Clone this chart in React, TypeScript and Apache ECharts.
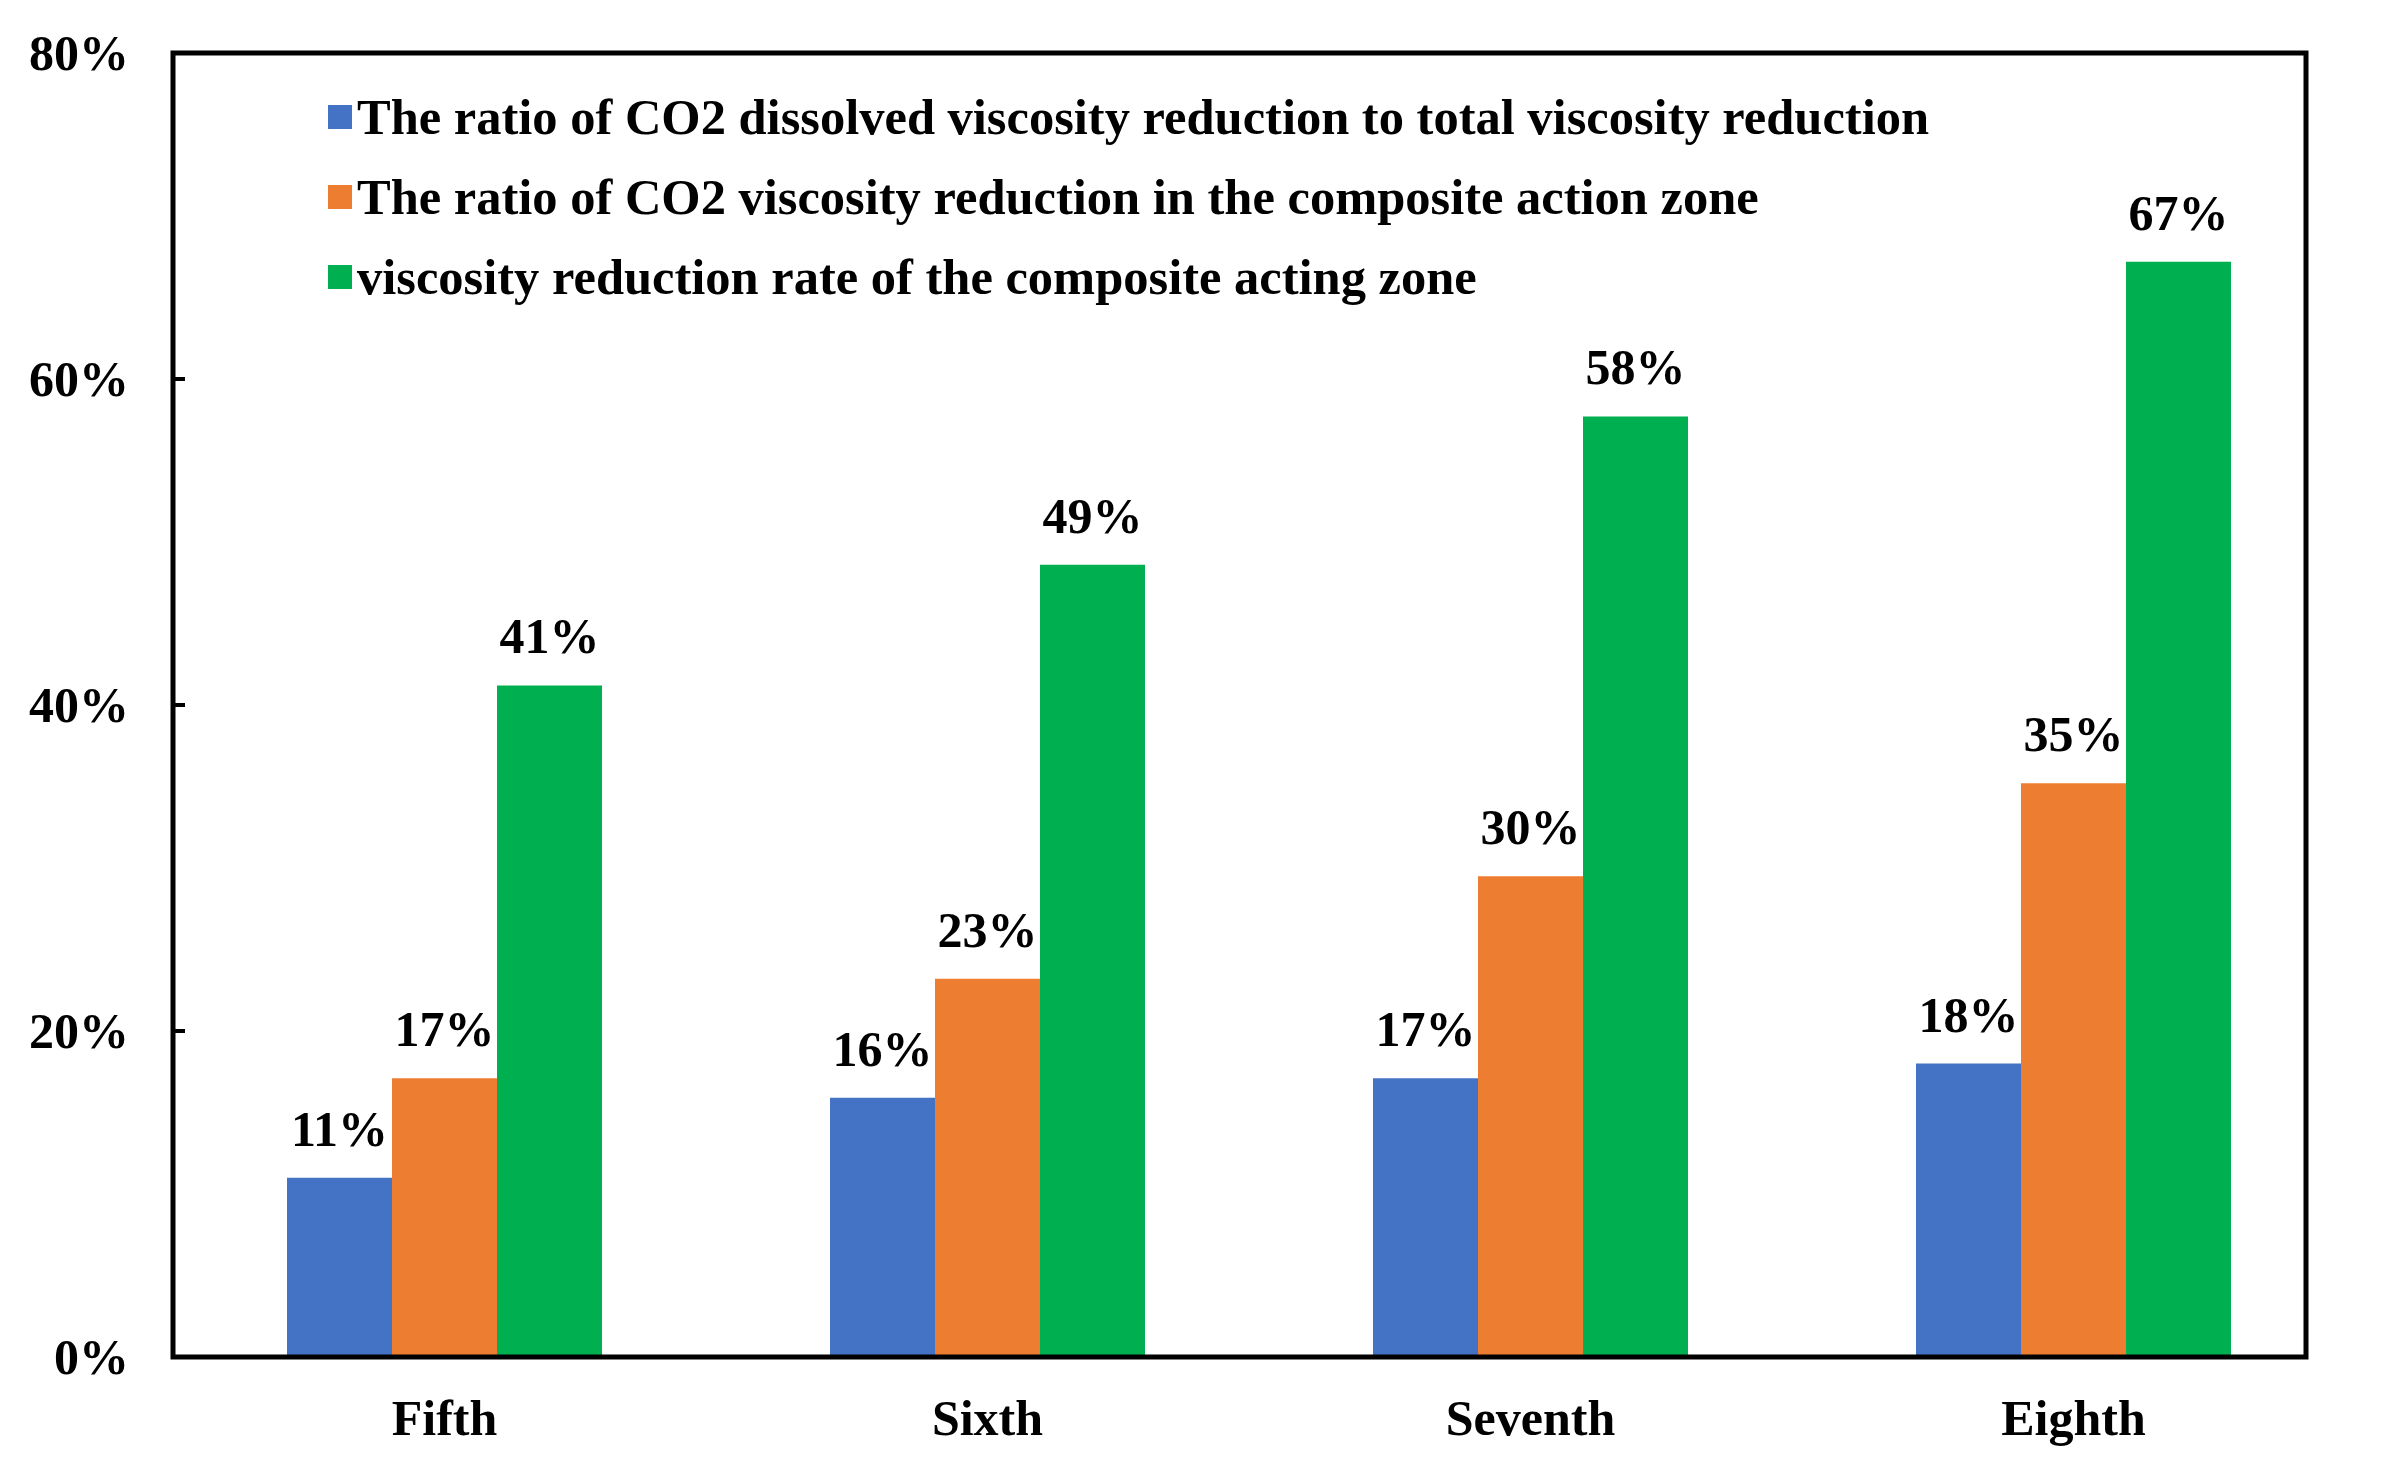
import React, { useEffect, useRef } from "react";
import * as echarts from "echarts";

const categories = ["Fifth", "Sixth", "Seventh", "Eighth"];
const seriesNames = [
  "The ratio of CO2 dissolved viscosity reduction to total viscosity reduction",
  "The ratio of CO2 viscosity reduction in the composite action zone",
  "viscosity reduction rate of the composite acting zone",
];
const dissolvedRatio = [11.0, 15.9, 17.1, 18.0];
const compositeRatio = [17.1, 23.2, 29.5, 35.2];
const compositeRate = [41.2, 48.6, 57.7, 67.2];
const colors = ["#4472C4", "#ED7D31", "#00B050"];
const yTicks = { min: 0, max: 80, interval: 20 };

const FONT = "'Liberation Serif', 'Times New Roman', serif";

export default function App() {
  const ref = useRef<HTMLDivElement>(null);
  useEffect(() => {
    if (!ref.current) return;
    const chart = echarts.init(ref.current, undefined, { renderer: "svg" });
    const gridLeft = 173;
    const gridTop = 53;
    const gridBottomY = 1357;
    const frameRight = 2306;
    const catWidth = 543;
    const gridWidth = catWidth * categories.length;
    const values = [dissolvedRatio, compositeRatio, compositeRate];
    chart.setOption({
      animation: false,
      backgroundColor: "#ffffff",
      textStyle: { fontFamily: FONT },
      grid: {
        left: gridLeft,
        top: gridTop,
        width: gridWidth,
        height: gridBottomY - gridTop,
        containLabel: false,
      },
      legend: {
        orient: "vertical",
        left: 323,
        top: 84,
        itemWidth: 24,
        itemHeight: 24,
        itemGap: 24,
        icon: "rect",
        textStyle: {
          fontFamily: FONT,
          fontWeight: "bold",
          fontSize: 50.5,
          lineHeight: 56,
          color: "#000",
          padding: [0, 0, 0, 0],
        },
        data: seriesNames,
      },
      xAxis: {
        type: "category",
        data: categories,
        axisLine: { show: false },
        axisTick: { show: false },
        axisLabel: {
          margin: 36,
          fontFamily: FONT,
          fontWeight: "bold",
          fontSize: 50,
          color: "#000",
        },
      },
      yAxis: {
        type: "value",
        min: yTicks.min,
        max: yTicks.max,
        interval: yTicks.interval,
        axisLine: { show: false },
        axisTick: { show: true, inside: true, length: 12, lineStyle: { color: "#000", width: 4 } },
        splitLine: { show: false },
        axisLabel: {
          margin: 44,
          formatter: "{value}%",
          fontFamily: FONT,
          fontWeight: "bold",
          fontSize: 50,
          color: "#000",
        },
      },
      series: seriesNames.map((name, i) => ({
        name,
        type: "bar",
        data: values[i],
        barWidth: 105,
        barGap: "0%",
        itemStyle: { color: colors[i] },
        label: {
          show: true,
          position: "top",
          distance: 24,
          formatter: (p: any) => Math.round(p.value) + "%",
          fontFamily: FONT,
          fontWeight: "bold",
          fontSize: 50,
          color: "#000",
        },
      })),
      graphic: [
        {
          type: "rect",
          z: 100,
          silent: true,
          shape: {
            x: gridLeft,
            y: gridTop,
            width: frameRight - gridLeft,
            height: gridBottomY - gridTop,
          },
          style: { fill: "none", stroke: "#000", lineWidth: 5 },
        },
      ],
    });
    return () => chart.dispose();
  }, []);
  return (
    <div
      ref={ref}
      style={{ position: "absolute", left: 0, top: 0, width: 2383, height: 1480, background: "#fff" }}
    />
  );
}
